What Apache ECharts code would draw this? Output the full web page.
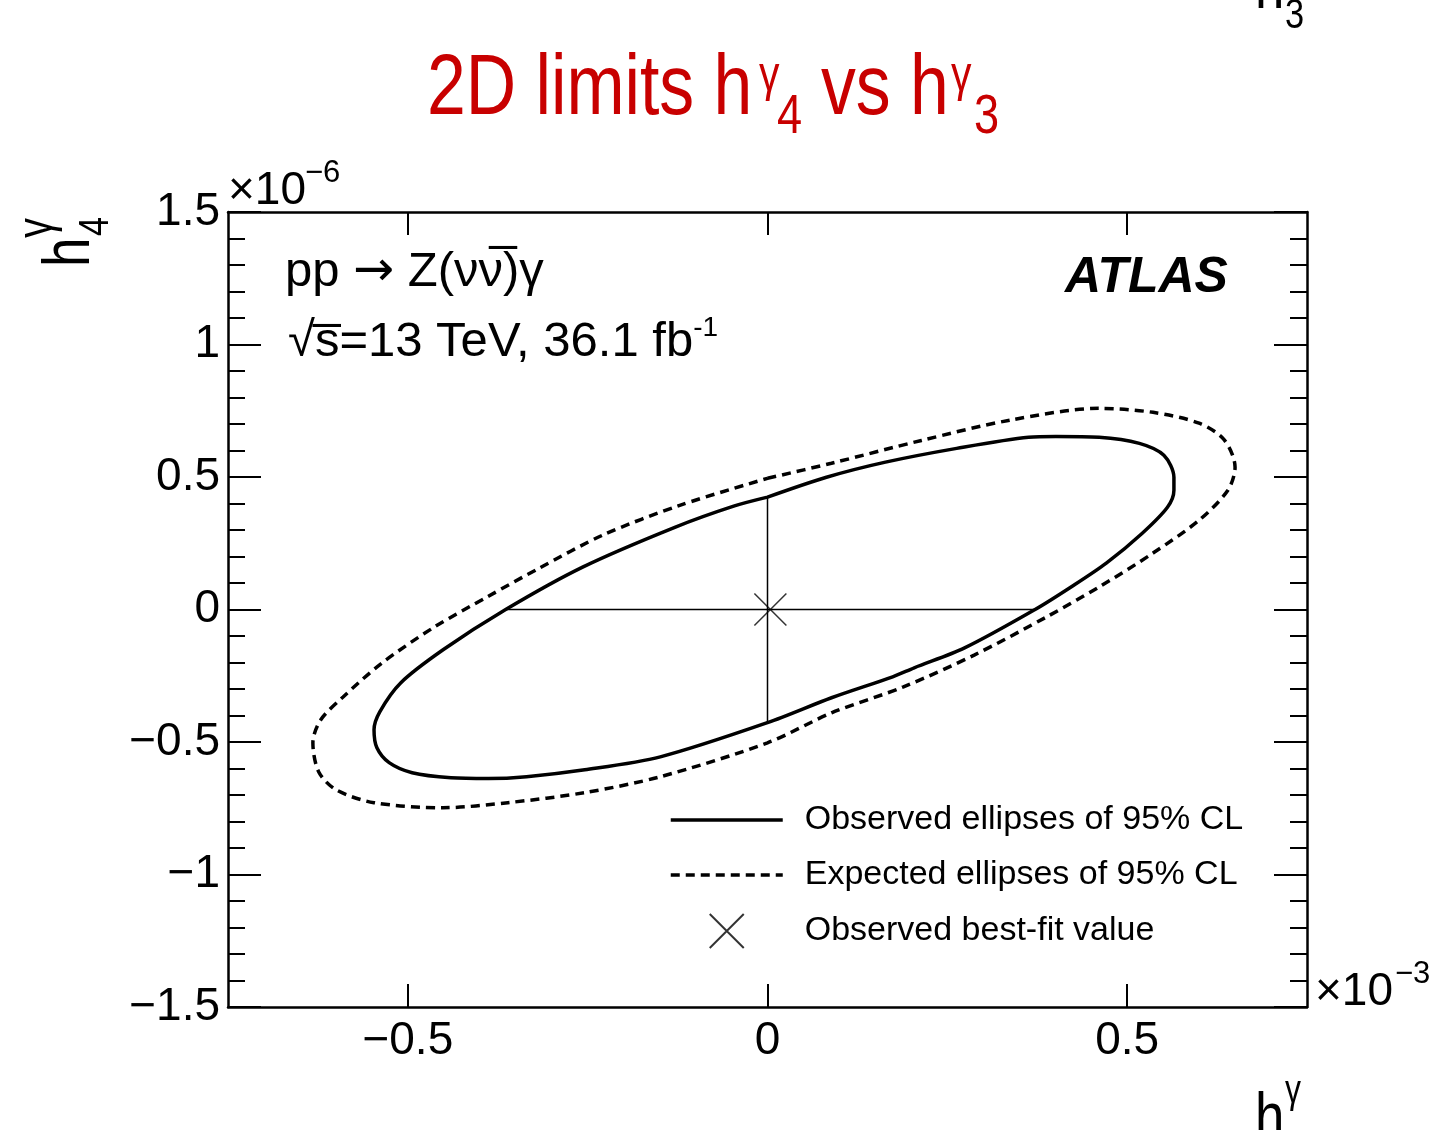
<!DOCTYPE html>
<html>
<head>
<meta charset="utf-8">
<script src="https://cdn.jsdelivr.net/npm/echarts@6/dist/echarts.min.js"></script>
<style>
    html, body { margin: 0; padding: 0; background: #fff; }
    #chart { width: 1430px; height: 1130px; }
</style>
</head>
<body>
<div id="chart"></div>
<script>
// values in units of 1e-3 (h3) and 1e-6 (h4)
const observedH3 = [0, 0.082, 0.164, 0.263, 0.363, 0.401, 0.461, 0.517, 0.551, 0.565,
    0.565, 0.556, 0.521, 0.471, 0.422, 0.372, 0.274, 0.204, 0.174, 0.089,
    0, -0.149, -0.254, -0.335, -0.388, -0.440, -0.494, -0.526, -0.543, -0.547,
    -0.539, -0.510, -0.451, -0.364, -0.257, -0.128, -0.047, 0];
const observedH4 = [0.424, 0.499, 0.556, 0.608, 0.650, 0.653, 0.650, 0.627, 0.582, 0.499,
    0.450, 0.386, 0.288, 0.175, 0.085, 0, -0.145, -0.220, -0.254, -0.333,
    -0.427, -0.556, -0.605, -0.631, -0.638, -0.635, -0.616, -0.578, -0.522, -0.454,
    -0.386, -0.277, -0.152, 0, 0.160, 0.311, 0.390, 0.424];

const expectedH3 = [0, 0.089, 0.214, 0.338, 0.461, 0.536, 0.600, 0.635, 0.650, 0.640,
    0.600, 0.536, 0.461, 0.388, 0.288, 0.189, 0.089, 0, -0.149, -0.254,
    -0.361, -0.451, -0.547, -0.600, -0.624, -0.632, -0.621, -0.590, -0.536, -0.463,
    -0.388, -0.318, -0.228, -0.122, 0];
const expectedH4 = [0.495, 0.552, 0.638, 0.715, 0.759, 0.744, 0.703, 0.640, 0.537, 0.450,
    0.337, 0.213, 0.085, -0.028, -0.171, -0.292, -0.390, -0.503, -0.631, -0.691,
    -0.729, -0.748, -0.729, -0.680, -0.612, -0.503, -0.416, -0.330, -0.202, -0.066,
    0.050, 0.155, 0.282, 0.393, 0.495];

const bestFit = [0.004, 0];
// 1D intervals drawn through the best-fit point
const hLineH3 = [-0.364, 0.372];
const hLineH4 = [0, 0];
const vLineH3 = [0, 0];
const vLineH4 = [-0.427, 0.424];

const xTickValues = [-0.5, 0, 0.5];

const legendNames = ['Observed ellipses of 95% CL', 'Expected ellipses of 95% CL', 'Observed best-fit value'];

const FONT = '"Liberation Sans", Arial, Helvetica, sans-serif';
const RED = '#c80000';

const zip = (a, b) => a.map((v, i) => [v, b[i]]);
const fmt = (v) => (v < 0 ? '\u2212' + String(-v) : String(v));

function txt(text, x, y, size, extra = {}) {
    return {
        type: 'text',
        x, y,
        scaleX: extra.scaleX || 1,
        rotation: extra.rotation || 0,
        silent: true,
        style: {
            text,
            fill: extra.color || '#000',
            fontSize: size,
            fontFamily: FONT,
            fontWeight: extra.fontWeight || 'normal',
            fontStyle: extra.fontStyle || 'normal',
            lineHeight: extra.lineHeight,
            rich: extra.rich,
            align: 'left',
            verticalAlign: 'middle',
        },
    };
}

const chart = echarts.init(document.getElementById('chart'), null, { renderer: 'canvas' });

const axisText = { color: '#000', fontSize: 46, fontFamily: FONT };
const frameLine = { color: '#000', width: 2.5 };
const tickLine = { color: '#000', width: 2 };

const option = {
    animation: false,
    backgroundColor: '#fff',
    grid: {
        left: 228, top: 212, width: 1079, height: 795, outerBoundsMode: 'none',
    },
    xAxis: [
        {
            type: 'value', min: -0.75, max: 0.75, position: 'bottom',
            axisLine: { onZero: false, lineStyle: frameLine },
            axisTick: { inside: true, length: 23, customValues: xTickValues, lineStyle: tickLine },
            axisLabel: { ...axisText, margin: 11, customValues: xTickValues, formatter: fmt },
            splitLine: { show: false },
        },
        {
            type: 'value', min: -0.75, max: 0.75, position: 'top',
            axisLine: { onZero: false, lineStyle: frameLine },
            axisTick: { inside: true, length: 23, customValues: xTickValues, lineStyle: tickLine },
            axisLabel: { show: false },
            splitLine: { show: false },
        },
    ],
    yAxis: [
        {
            type: 'value', min: -1.5, max: 1.5, interval: 0.5, position: 'left',
            axisLine: { onZero: false, lineStyle: frameLine },
            axisTick: { inside: true, length: 33, lineStyle: tickLine },
            minorTick: { show: true, splitNumber: 5, length: 17, lineStyle: tickLine },
            axisLabel: { ...axisText, margin: 8, formatter: fmt },
            splitLine: { show: false },
        },
        {
            type: 'value', min: -1.5, max: 1.5, interval: 0.5, position: 'right',
            axisLine: { onZero: false, lineStyle: frameLine },
            axisTick: { inside: true, length: 33, lineStyle: tickLine },
            minorTick: { show: true, splitNumber: 5, length: 17, lineStyle: tickLine },
            axisLabel: { show: false },
            splitLine: { show: false },
        },
    ],
    legend: {
        data: [
            { name: legendNames[0], itemStyle: { opacity: 0 } },
            { name: legendNames[1], itemStyle: { opacity: 0 } },
            { name: legendNames[2] },
        ],
        orient: 'vertical',
        left: 669,
        top: 803,
        padding: 0,
        itemWidth: 112,
        itemHeight: 34,
        itemGap: 21,
        selectedMode: false,
        lineStyle: { width: 3.5 },
        textStyle: {
            color: '#000', fontSize: 34, lineHeight: 34, fontFamily: FONT, padding: [0, 0, 0, 17],
        },
    },
    series: [
        {
            name: legendNames[0],
            type: 'line',
            data: zip(observedH3, observedH4),
            symbol: 'none',
            smooth: 0.3,
            lineStyle: { color: '#000', width: 3.5 },
            itemStyle: { color: '#000' },
        },
        {
            name: legendNames[1],
            type: 'line',
            data: zip(expectedH3, expectedH4),
            symbol: 'none',
            smooth: 0.3,
            lineStyle: { color: '#000', width: 3.5, type: [9, 6] },
            itemStyle: { color: '#000' },
        },
        {
            name: 'hline',
            type: 'line',
            data: zip(hLineH3, hLineH4),
            symbol: 'none',
            lineStyle: { color: '#000', width: 1.5 },
        },
        {
            name: 'vline',
            type: 'line',
            data: zip(vLineH3, vLineH4),
            symbol: 'none',
            lineStyle: { color: '#000', width: 1.5 },
        },
        {
            name: legendNames[2],
            type: 'scatter',
            data: [bestFit],
            symbol: 'path://M0,0L10,10M10,0L0,10',
            symbolSize: 32,
            itemStyle: { color: 'rgba(0,0,0,0)', borderColor: '#000', borderWidth: 1.5 },
        },
    ],
    graphic: [
        // title
        txt('2D limits h', 427, 91, 85, { scaleX: 0.82, color: RED }),
        txt('\u03b3', 759, 77, 50, { scaleX: 0.82, color: RED }),
        txt('4', 777, 118, 55, { scaleX: 0.82, color: RED }),
        txt('vs h', 821, 91, 85, { scaleX: 0.82, color: RED }),
        txt('\u03b3', 951, 77, 50, { scaleX: 0.82, color: RED }),
        txt('3', 974, 118, 55, { scaleX: 0.82, color: RED }),
        // y axis title
        txt('h', 71, 267, 66, { scaleX: 0.8, rotation: Math.PI / 2 }),
        txt('\u03b3', 38, 238, 50, { scaleX: 0.8, rotation: Math.PI / 2 }),
        txt('4', 96, 236, 43, { scaleX: 0.8, rotation: Math.PI / 2 }),
        // x axis title (and its wrapped copy at the top edge)
        txt('h', 1255, 1120.5, 66, { scaleX: 0.8 }),
        txt('\u03b3', 1285, 1091.6, 40, { scaleX: 0.8 }),
        txt('3', 1285, 1146.7, 43, { scaleX: 0.8 }),
        txt('h', 1255, -10.5, 66, { scaleX: 0.8 }),
        txt('3', 1285, 15.7, 43, { scaleX: 0.8 }),
        // exponents
        txt('\u00d710', 228, 191, 46),
        txt('\u22126', 305, 173, 31),
        txt('\u00d710', 1315, 992, 46),
        txt('\u22123', 1395, 974, 31),
        // labels
        txt('pp {arr|\u2192} Z(\u03bd\u03bd\u0305)\u03b3', 285, 272, 49, {
            rich: { arr: { fontFamily: 'DejaVu Sans', fontSize: 49, fill: '#000' } },
        }),
        txt('\u221as\u0305=13 TeV, 36.1 fb{sup|-1}', 288, 342, 49, {
            lineHeight: 56,
            rich: { sup: { fontSize: 28, lineHeight: 28, verticalAlign: 'top', fontFamily: FONT, fill: '#000' } },
        }),
        txt('ATLAS', 1065, 278, 50, { fontWeight: 'bold', fontStyle: 'italic' }),
    ],
};

chart.setOption(option);
</script>
</body>
</html>
